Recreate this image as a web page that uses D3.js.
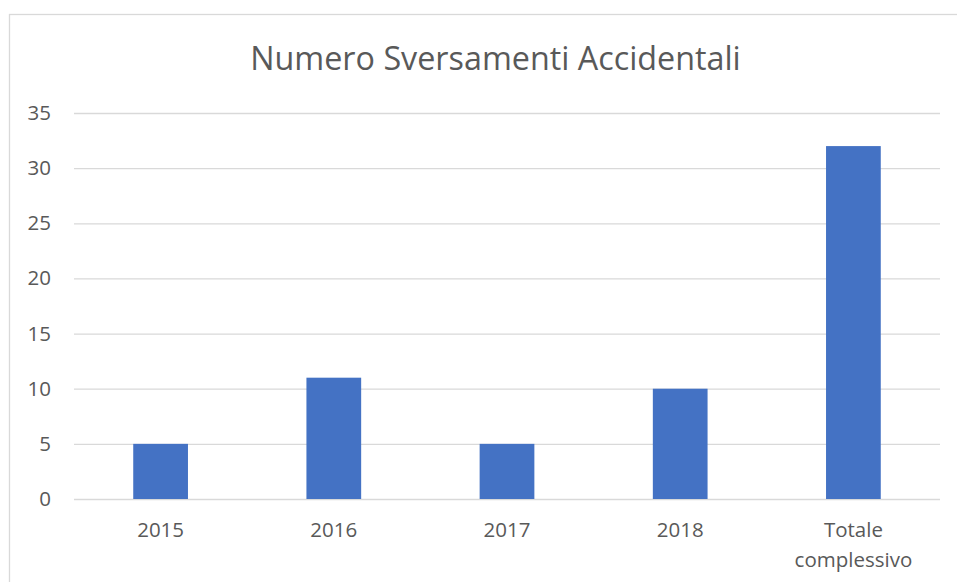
<!DOCTYPE html>
<meta charset="utf-8">

<style type="text/css">
  body {
  	margin: 0;
  	background: white;
  }

  svg {
  	display: block;
  	font-family: "Open Sans", sans-serif;
  }

  .grid line {
  	stroke: #d9d9d9;
  	stroke-width: 1.3;
  }

  .grid path {
  	display: none;
  }

  .axis text {
  	fill: #595959;
  	font-family: "Open Sans", sans-serif;
  	font-size: 20.5px;
  }

  .axis path, .axis line {
  	display: none;
  }

  .bar {
  	fill: #4472c4;
  }

  .title {
  	fill: #595959;
  	font-size: 32.3px;
  }

</style>

<body>
	<div class="g-chart-container"></div>
</body>

<script src="https://d3js.org/d3.v7.min.js"></script>

<script>

// data
var categories = ["2015", "2016", "2017", "2018", "Totale complessivo"];
var values = [5, 11, 5, 10, 32];
var yTicks = [0, 5, 10, 15, 20, 25, 30, 35];
var title = "Numero Sversamenti Accidentali";

var width = 957, height = 582;
var margin = {top: 113, right: 17, bottom: 83, left: 74};

var w = width - margin.left - margin.right,
    h = height - margin.top - margin.bottom;

var svg = d3.select(".g-chart-container").append("svg")
	.attr("width", width)
	.attr("height", height);

// chart frame (only left & top edges fall inside the picture)
svg.append("rect")
	.attr("x", 9.5)
	.attr("y", 14.5)
	.attr("width", 1000)
	.attr("height", 1000)
	.attr("fill", "none")
	.attr("stroke", "#d9d9d9")
	.attr("stroke-width", 1.3);

svg.append("text")
	.attr("class", "title")
	.attr("x", 495.5)
	.attr("y", 70)
	.attr("text-anchor", "middle")
	.text(title);

var chart = svg.append("g")
	.attr("transform", "translate(" + margin.left + "," + margin.top + ")");

var xscale = d3.scaleBand()
	.domain(categories)
	.range([0, w])
	.paddingInner(0.684)
	.paddingOuter(0.342);

var yscale = d3.scaleLinear()
	.domain([0, 35])
	.range([h, 0]);

// horizontal gridlines
chart.append("g")
	.attr("class", "grid")
	.call(d3.axisLeft(yscale).tickValues(yTicks).tickSize(-w).tickFormat(""));

// y tick labels
chart.append("g")
	.attr("class", "axis")
	.attr("transform", "translate(-23,0)")
	.call(d3.axisLeft(yscale).tickValues(yTicks).tickSize(0).tickPadding(0));

chart.selectAll(".bar")
	.data(values)
	.enter()
	.append("rect")
	.attr("class", "bar")
	.attr("x", function(d, i) { return xscale(categories[i]); })
	.attr("y", function(d) { return yscale(d); })
	.attr("width", xscale.bandwidth())
	.attr("height", function(d) { return h - yscale(d); });

// x labels, wrapped onto two lines where needed
var xaxis = chart.append("g")
	.attr("class", "axis")
	.attr("transform", "translate(0," + h + ")")
	.call(d3.axisBottom(xscale).tickSize(0).tickPadding(0));

xaxis.selectAll("text")
	.attr("y", 0)
	.attr("dy", null)
	.each(function(d) {
		var t = d3.select(this);
		var words = d.split(" ");
		t.text(null);
		words.forEach(function(word, k) {
			t.append("tspan")
				.attr("x", 0)
				.attr("y", 38 + k * 30)
				.text(word);
		});
	});

</script>
